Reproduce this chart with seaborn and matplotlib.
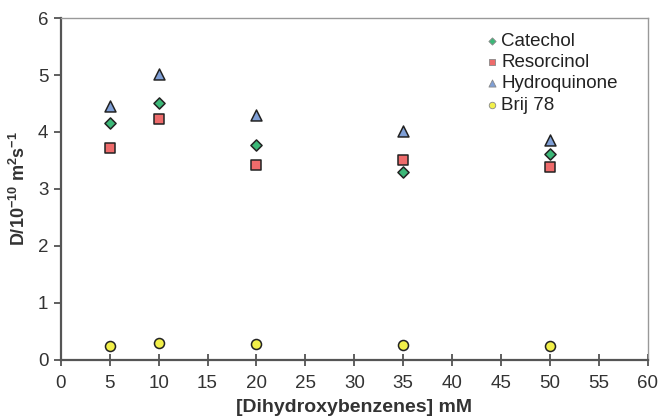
import numpy as np
import pandas as pd
import seaborn as sns
import matplotlib.pyplot as plt

# Data
conc = [5, 10, 20, 35, 50]
catechol = [4.16, 4.51, 3.77, 3.30, 3.61]
resorcinol = [3.72, 4.23, 3.42, 3.51, 3.39]
hydroquinone = [4.46, 5.02, 4.30, 4.02, 3.86]
brij78 = [0.25, 0.30, 0.28, 0.26, 0.25]

series = ["Catechol", "Resorcinol", "Hydroquinone", "Brij 78"]
df = pd.DataFrame({
    "conc": conc * 4,
    "D": catechol + resorcinol + hydroquinone + brij78,
    "compound": np.repeat(series, len(conc)),
})

palette = {"Catechol": "#3cb878", "Resorcinol": "#ee6b6b",
           "Hydroquinone": "#7f9fd6", "Brij 78": "#f2f04a"}
markers = {"Catechol": "D", "Resorcinol": "s", "Hydroquinone": "^", "Brij 78": "o"}
sizes = {"Catechol": 32, "Resorcinol": 55, "Hydroquinone": 62, "Brij 78": 52}

sns.set_style("white")
plt.rcParams['font.family'] = ['Liberation Sans', 'DejaVu Sans']
plt.rcParams['mathtext.fontset'] = 'custom'
plt.rcParams['mathtext.rm'] = 'Liberation Sans:bold'
plt.rcParams['mathtext.default'] = 'rm'

fig = plt.figure(figsize=(6.61, 4.19), dpi=100)
ax = fig.add_axes([0.092, 0.141, 0.888, 0.816])

for name in series:
    sub = df[df["compound"] == name]
    sns.scatterplot(data=sub, x="conc", y="D", color=palette[name], marker=markers[name],
                    s=sizes[name], edgecolor="#222222", linewidth=1.1, ax=ax, label=name,
                    zorder=3)

ax.set_xlim(0, 60)
ax.set_ylim(0, 6)
ax.set_xticks(range(0, 61, 5))
ax.set_yticks(range(0, 7))
ax.tick_params(axis="x", direction="inout", length=8, width=1.2, colors="#444444",
               labelcolor="#333333", labelsize=13.5, pad=7, bottom=True)
ax.tick_params(axis="y", direction="out", length=5, width=1.2, colors="#444444",
               labelcolor="#333333", labelsize=13.5, left=True, pad=4)

for side in ["left", "bottom"]:
    ax.spines[side].set_color("#555555")
    ax.spines[side].set_linewidth(1.6)
for side in ["top", "right"]:
    ax.spines[side].set_color("#999999")
    ax.spines[side].set_linewidth(1.0)

ax.set_xlabel("[Dihydroxybenzenes] mM", fontsize=14, fontweight="bold", color="#333333",
              labelpad=5)
ax.set_ylabel("D/10$^{-10}$ m$^{2}$s$^{-1}$", fontsize=13, fontweight="bold",
              color="#333333", labelpad=6)

leg = ax.legend(loc="upper right", bbox_to_anchor=(0.968, 0.99), frameon=False, fontsize=13.5,
                handletextpad=0.0, labelspacing=0.22, borderaxespad=0.2, markerscale=0.65,
                handlelength=1.0)
for h in leg.legend_handles:
    h.set_edgecolor("#888888")
    h.set_linewidth(0.6)
for t in leg.get_texts():
    t.set_color("#222222")

fig.savefig("out.png", dpi=100)
